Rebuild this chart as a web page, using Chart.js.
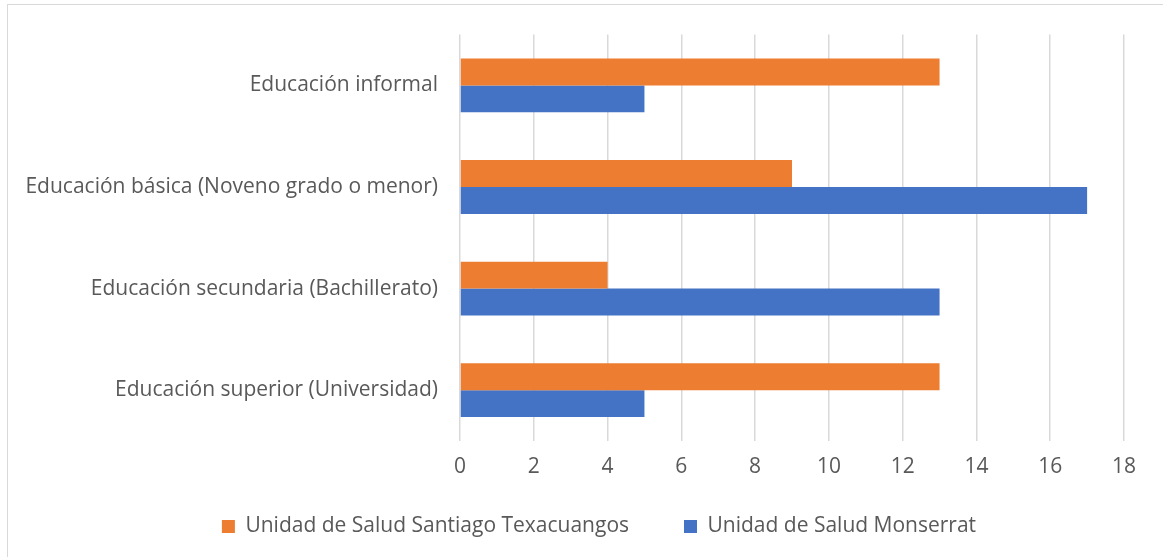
<!DOCTYPE html>
<html>
<head>
<meta charset="utf-8">
<script src="https://cdn.jsdelivr.net/npm/chart.js@4"></script>
<style>
    html, body { margin: 0; padding: 0; background: #fff; }
    #wrap { position: relative; width: 1163px; height: 557px; overflow: hidden; }
    #frame { position: absolute; left: 7px; top: 4px; width: 1170px; height: 570px; border: 1px solid #d9d9d9; box-sizing: border-box; }
    canvas { position: absolute; left: 0; top: 0; }
</style>
</head>
<body>
<div id="wrap">
    <div id="frame"></div>
    <canvas id="chart" width="1163" height="557"></canvas>
</div>
<script>
// Categories, top to bottom
var categories = [
    'Educación informal',
    'Educación básica (Noveno grado o menor)',
    'Educación secundaria (Bachillerato)',
    'Educación superior (Universidad)'
];
var seriesNames = ['Unidad de Salud Santiago Texacuangos', 'Unidad de Salud Monserrat'];
var santiagoValues = [13, 9, 4, 13];
var monserratValues = [5, 17, 13, 5];
var xMax = 18;
var xStep = 2;

var textColor = '#595959';
var fontFamily = "'Open Sans', 'Noto Sans', sans-serif";
var fontSize = 21;

var ctx = document.getElementById('chart').getContext('2d');

/**
 * After layout: let the x tick labels use the room above the legend
 * (they are clipped to the scale box otherwise) and nudge the legend right.
 */
var layoutTweaks = {
    id: 'layoutTweaks',
    afterLayout: function(chart) {
        var xScale = chart.scales.x;
        xScale.bottom = xScale.top + 66;
        chart.legend.left += 37;
        chart.legend.right += 37;
    }
};

// Generate the chart
var chart = new Chart(ctx, {
    type: 'bar',
    data: {
        labels: categories,
        datasets: [{
            label: seriesNames[0],
            data: santiagoValues,
            backgroundColor: '#ED7D31'
        }, {
            label: seriesNames[1],
            data: monserratValues,
            backgroundColor: '#4472C4'
        }]
    },
    options: {
        indexAxis: 'y',
        responsive: false,
        animation: false,
        categoryPercentage: 0.53,
        barPercentage: 1.0,
        layout: {
            padding: {top: 33, right: 39, bottom: 10, left: 0}
        },
        scales: {
            x: {
                min: 0,
                max: xMax,
                ticks: {
                    stepSize: xStep,
                    color: textColor,
                    font: {family: fontFamily, size: fontSize},
                    padding: 13
                },
                grid: {
                    color: '#d9d9d9',
                    lineWidth: 1.5,
                    drawTicks: false
                },
                border: {display: false},
                afterFit: function(scale) {
                    scale.height = 20;
                }
            },
            y: {
                ticks: {
                    color: textColor,
                    font: {family: fontFamily, size: fontSize},
                    padding: 22
                },
                grid: {display: false, drawTicks: false},
                border: {display: false},
                afterFit: function(scale) {
                    scale.width = 460;
                }
            }
        },
        plugins: {
            legend: {
                position: 'bottom',
                labels: {
                    color: textColor,
                    font: {family: fontFamily, size: fontSize},
                    boxWidth: 13,
                    boxHeight: 13,
                    padding: 55
                }
            },
            tooltip: {enabled: false}
        }
    },
    plugins: [layoutTweaks]
});
</script>
</body>
</html>
